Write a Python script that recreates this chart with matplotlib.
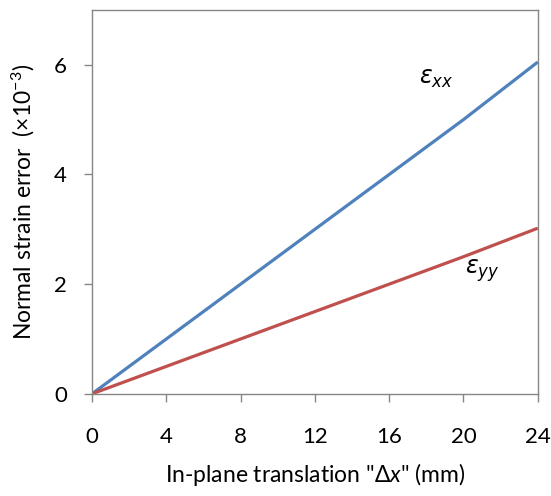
import matplotlib.pyplot as plt

# translation (mm) and normal strain errors (x10^-3)
dx = [0, 4, 8, 12, 16, 20, 24]
eps_xx = [0.0, 1.0, 2.0, 3.0, 4.0, 5.0, 6.05]
eps_yy = [0.0, 0.5, 1.0, 1.5, 2.0, 2.5, 3.02]

x_ticks = [0, 4, 8, 12, 16, 20, 24]
y_ticks = [0, 2, 4, 6]

plt.rcParams['font.family'] = ['Lato', 'DejaVu Sans']
plt.rcParams['mathtext.fontset'] = 'custom'
plt.rcParams['mathtext.rm'] = 'Lato'
plt.rcParams['mathtext.it'] = 'Lato:italic'

fig = plt.figure(figsize=(5.51, 4.96), dpi=100)
ax = fig.add_axes([0.167, 0.206, 0.809, 0.774])

ax.plot(dx, eps_xx, color='#4F81BD', lw=2.3, solid_capstyle='butt')
ax.plot(dx, eps_yy, color='#C0504D', lw=2.3, solid_capstyle='butt')

ax.set_xlim(0, 24)
ax.set_ylim(0, 7)
ax.set_xticks(x_ticks)
ax.set_yticks(y_ticks)

for s in ax.spines.values():
    s.set_color('#868686')
    s.set_linewidth(1.0)

ax.tick_params(axis='x', direction='out', length=6, width=1, color='#868686',
               pad=18, labelsize=16)
ax.tick_params(axis='y', direction='out', length=6, width=1, color='#868686',
               pad=12, labelsize=16)

# curve labels, curly italic epsilon
ax.text(18.55, 5.75, r'$\varepsilon_{xx}$', fontsize=17, ha='center', va='center',
        math_fontfamily='dejavusans')
ax.text(21.0, 2.25, r'$\varepsilon_{yy}$', fontsize=17, ha='center', va='center',
        math_fontfamily='dejavusans')

ax.set_xlabel('In-plane translation "$\\Delta x$" (mm)', fontsize=16.5, labelpad=10)
ax.set_ylabel('Normal strain error  (×10$^{-3}$)', fontsize=16.5, labelpad=12)

fig.savefig('out.png', dpi=100)
